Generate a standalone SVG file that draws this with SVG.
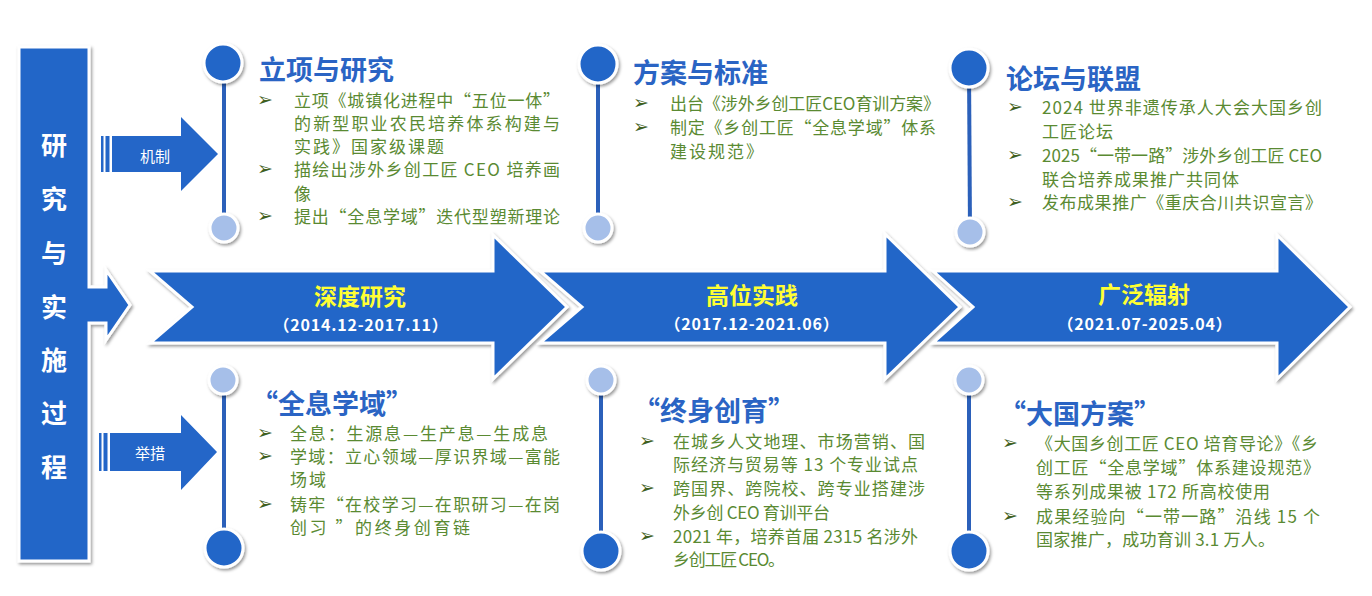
<svg xmlns="http://www.w3.org/2000/svg" width="1372" height="596" viewBox="0 0 1372 596">
<defs>
<filter id="sh" x="-20%" y="-20%" width="140%" height="140%">
<feDropShadow dx="1.5" dy="2" stdDeviation="1.8" flood-color="#000" flood-opacity="0.4"/>
</filter>
<style>
.shape{fill:#2466C8;stroke:#fff;stroke-width:3;filter:url(#sh)}
.big{fill:#2466C8;stroke:#fff;stroke-width:3;filter:url(#sh)}
.small{fill:#A6BFE9;stroke:#fff;stroke-width:3;filter:url(#sh)}
.vl{stroke:#2B60BA;stroke-width:4;fill:none}
text{dominant-baseline:central}
.pan{font-family:"Noto Sans CJK SC",sans-serif;font-weight:700;font-size:26px;fill:#fff;text-anchor:middle}
.lab{font-family:"Noto Sans CJK SC",sans-serif;font-size:15px;fill:#fff;text-anchor:middle}
.ptitle{font-family:"Noto Sans CJK SC",sans-serif;font-weight:700;font-size:23px;fill:#FFFF33;text-anchor:middle}
.pdate{font-family:"Noto Sans CJK SC",sans-serif;font-weight:700;font-size:16px;fill:#fff;text-anchor:middle;letter-spacing:0.8px}
.title{font-family:"Noto Sans CJK SC",sans-serif;font-weight:700;font-size:27px;fill:#2A64C4}
.txt{font-family:"Noto Sans CJK SC",sans-serif;font-size:17px;fill:#5A8A32}
.ls{letter-spacing:2px}
.bul{font-family:"DejaVu Sans",sans-serif;font-weight:700;font-size:19px;fill:#3F6020}
</style>
</defs>
<rect width="1372" height="596" fill="#fff"/>

<g id="panel">
<path class="shape" d="M19,47 H89 V287 H106 V270 L130,305 L106,340 V323 H89 V561 H19 Z"/>
<text class="pan" x="54" y="143">研</text>
<text class="pan" x="54" y="197">究</text>
<text class="pan" x="54" y="251">与</text>
<text class="pan" x="54" y="305">实</text>
<text class="pan" x="54" y="358">施</text>
<text class="pan" x="54" y="411">过</text>
<text class="pan" x="54" y="465">程</text>
</g>

<g id="arrow-mechanism">
<rect x="101" y="136" width="2.5" height="36" fill="#2466C8"/>
<rect x="105.5" y="136" width="4" height="36" fill="#2466C8"/>
<path fill="#2466C8" d="M112,136 H181 V117 L218,154 L181,191 V172 H112 Z"/>
<text class="lab" x="155" y="155">机制</text>
</g>

<g id="arrow-measures">
<rect x="99" y="433" width="2.5" height="38" fill="#2466C8"/>
<rect x="103.5" y="433" width="4" height="38" fill="#2466C8"/>
<path fill="#2466C8" d="M110,433 H181 V415 L217,452 L181,490 V471 H110 Z"/>
<text class="lab" x="150" y="452">举措</text>
</g>

<g id="phase1">
<path class="shape" d="M150,271 H493 V235 L567,307 L493,379 V343 H150 L192,307 Z"/>
<text class="ptitle" x="360" y="295">深度研究</text>
<text class="pdate" x="361" y="324">（2014.12-2017.11）</text>
</g>
<g id="phase2">
<path class="shape" d="M540,271 H885 V234 L960,307 L885,379 V343 H540 L582,307 Z"/>
<text class="ptitle" x="752" y="294">高位实践</text>
<text class="pdate" x="752" y="323">（2017.12-2021.06）</text>
</g>
<g id="phase3">
<path class="shape" d="M933,271 H1277 V235 L1350,307 L1277,379 V343 H933 L973,307 Z"/>
<text class="ptitle" x="1144" y="293">广泛辐射</text>
<text class="pdate" x="1145" y="323">（2021.07-2025.04）</text>
</g>

<g id="connectors">
<line class="vl" x1="224" y1="63" x2="224" y2="228"/>
<line class="vl" x1="598" y1="64" x2="598" y2="228"/>
<line class="vl" x1="969" y1="68" x2="970" y2="232"/>
<line class="vl" x1="224" y1="380" x2="224" y2="548"/>
<line class="vl" x1="601" y1="380" x2="601" y2="551"/>
<line class="vl" x1="969" y1="380" x2="969" y2="551"/>
</g>

<g id="node-t1">
<circle class="big" cx="223" cy="63" r="19"/>
<circle class="small" cx="224" cy="228" r="14"/>
<text class="title" x="259" y="68">立项与研究</text>
<text class="bul" x="257" y="99">➢</text>
<text class="txt" x="294" y="99" textLength="266" lengthAdjust="spacing">立项《城镇化进程中“五位一体”</text>
<text class="txt" x="294" y="122" textLength="266" lengthAdjust="spacing">的新型职业农民培养体系构建与</text>
<text class="txt ls" x="294" y="145">实践》国家级课题</text>
<text class="bul" x="257" y="168">➢</text>
<text class="txt" x="294" y="168" textLength="266" lengthAdjust="spacing">描绘出涉外乡创工匠 CEO 培养画</text>
<text class="txt ls" x="294" y="192">像</text>
<text class="bul" x="257" y="215">➢</text>
<text class="txt" x="294" y="215" textLength="266" lengthAdjust="spacing">提出“全息学域”迭代型塑新理论</text>
</g>

<g id="node-t2">
<circle class="big" cx="598" cy="64" r="19"/>
<circle class="small" cx="598" cy="228" r="14"/>
<text class="title" x="633" y="71">方案与标准</text>
<text class="bul" x="633" y="102">➢</text>
<text class="txt" x="670" y="102" textLength="270" lengthAdjust="spacing">出台《涉外乡创工匠CEO育训方案》</text>
<text class="bul" x="633" y="126">➢</text>
<text class="txt" x="670" y="126" textLength="266" lengthAdjust="spacing">制定《乡创工匠“全息学域”体系</text>
<text class="txt ls" x="670" y="150">建设规范》</text>
</g>

<g id="node-t3">
<circle class="big" cx="969" cy="68" r="19"/>
<circle class="small" cx="970" cy="232" r="14"/>
<text class="title" x="1006" y="77">论坛与联盟</text>
<text class="bul" x="1007" y="106">➢</text>
<text class="txt" x="1042" y="106" textLength="280" lengthAdjust="spacing">2024 世界非遗传承人大会大国乡创</text>
<text class="txt" x="1042" y="130" style="letter-spacing:1px">工匠论坛</text>
<text class="bul" x="1007" y="154">➢</text>
<text class="txt" x="1042" y="154" textLength="280" lengthAdjust="spacing">2025“一带一路”涉外乡创工匠 CEO</text>
<text class="txt" x="1042" y="178" style="letter-spacing:1px">联合培养成果推广共同体</text>
<text class="bul" x="1007" y="201">➢</text>
<text class="txt" x="1042" y="201" textLength="280" lengthAdjust="spacing">发布成果推广《重庆合川共识宣言》</text>
</g>

<g id="node-b1">
<circle class="small" cx="223" cy="380" r="14"/>
<circle class="big" cx="224" cy="548" r="19"/>
<text class="title" x="251" y="402">“全息学域”</text>
<text class="bul" x="257" y="432">➢</text>
<text class="txt" x="290" y="432" textLength="258" lengthAdjust="spacing">全息：生源息—生产息—生成息</text>
<text class="bul" x="257" y="455">➢</text>
<text class="txt" x="290" y="455" textLength="270" lengthAdjust="spacing">学域：立心领域—厚识界域—富能</text>
<text class="txt ls" x="290" y="478">场域</text>
<text class="bul" x="257" y="503">➢</text>
<text class="txt" x="290" y="503" textLength="270" lengthAdjust="spacing">铸牢“在校学习—在职研习—在岗</text>
<text class="txt" x="290" y="526" textLength="180" lengthAdjust="spacing">创习 ”的终身创育链</text>
</g>

<g id="node-b2">
<circle class="small" cx="601" cy="380" r="14"/>
<circle class="big" cx="601" cy="551" r="19"/>
<text class="title" x="633" y="409">“终身创育”</text>
<text class="bul" x="639" y="440">➢</text>
<text class="txt" x="673" y="440" textLength="252" lengthAdjust="spacing">在城乡人文地理、市场营销、国</text>
<text class="txt" x="673" y="463" textLength="245" lengthAdjust="spacing">际经济与贸易等 13 个专业试点</text>
<text class="bul" x="639" y="487">➢</text>
<text class="txt" x="673" y="487" textLength="252" lengthAdjust="spacing">跨国界、跨院校、跨专业搭建涉</text>
<text class="txt" x="673" y="511" textLength="157" lengthAdjust="spacing">外乡创 CEO 育训平台</text>
<text class="bul" x="639" y="535">➢</text>
<text class="txt" x="673" y="535" textLength="245" lengthAdjust="spacing">2021 年，培养首届 2315 名涉外</text>
<text class="txt" x="673" y="558" textLength="112" lengthAdjust="spacing">乡创工匠 CEO。</text>
</g>

<g id="node-b3">
<circle class="small" cx="969" cy="380" r="14"/>
<circle class="big" cx="969" cy="551" r="19"/>
<text class="title" x="999" y="412">“大国方案”</text>
<text class="bul" x="1002" y="442">➢</text>
<text class="txt" x="1036" y="442" textLength="282" lengthAdjust="spacing">《大国乡创工匠 CEO 培育导论》《乡</text>
<text class="txt" x="1036" y="466" textLength="284" lengthAdjust="spacing">创工匠“全息学域”体系建设规范》</text>
<text class="txt" x="1036" y="490" textLength="234" lengthAdjust="spacing">等系列成果被 172 所高校使用</text>
<text class="bul" x="1002" y="515">➢</text>
<text class="txt" x="1036" y="515" textLength="284" lengthAdjust="spacing">成果经验向“一带一路”沿线 15 个</text>
<text class="txt" x="1036" y="538" textLength="239" lengthAdjust="spacing">国家推广，成功育训 3.1 万人。</text>
</g>
</svg>
